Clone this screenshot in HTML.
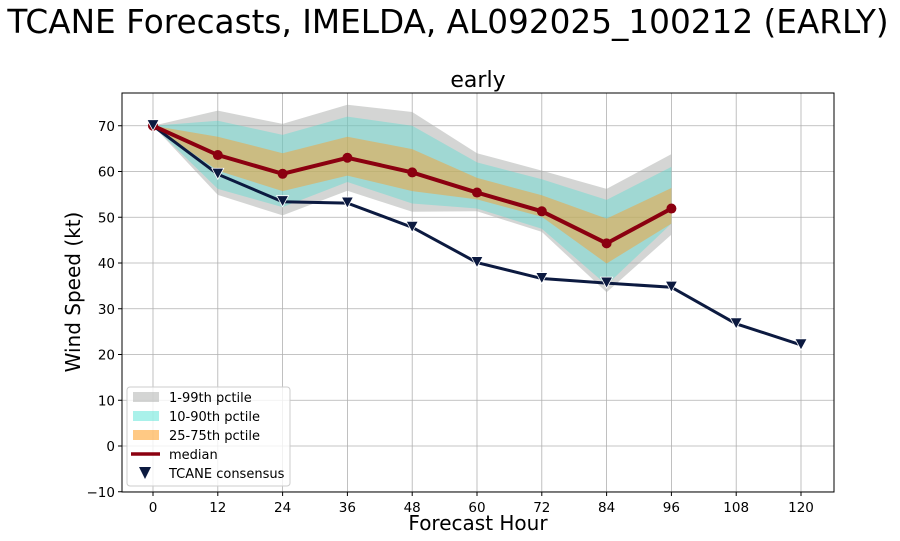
<!DOCTYPE html>
<html><head><meta charset="utf-8"><style>
body{margin:0;background:#fff;width:900px;height:541px;overflow:hidden}
svg{display:block;font-family:"DejaVu Sans","Liberation Sans",sans-serif}
</style></head><body>
<svg id="c" width="900" height="541"></svg>
<script>
const hours=[0,12,24,36,48,60,72,84,96];
const p01=[70,54.9,50.4,55.8,51.2,51.3,46.8,33.6,46.2];
const p99=[70,73.3,70.4,74.6,73,64,60.2,56.2,63.8];
const p10=[70,56.2,52.2,57.7,53,51.9,47.5,35.2,48.6];
const p90=[70,71.1,68,72,70,62,58.3,53.8,61];
const p25=[70,60.2,55.7,59.1,55.7,53.9,50.1,39.9,48.6];
const p75=[70,67.6,64,67.6,64.9,58.6,54.8,49.7,56.4];
const median=[70,63.6,59.5,63,59.8,55.4,51.3,44.3,51.9];
const consHours=[0,12,24,36,48,60,72,84,96,108,120];
const consensus=[70,59.4,53.4,53.1,47.8,40.1,36.6,35.6,34.7,26.7,22.1];
const xTicks=[0,12,24,36,48,60,72,84,96,108,120];
const yTicks=[-10,0,10,20,30,40,50,60,70];

const L=122,R=834,T=93,B=492;
const X=h=>153+(h-0)*(801-153)/120;
const Y=v=>446-v*4.575;
const NS="http://www.w3.org/2000/svg";
const svg=document.getElementById('c');
function el(t,a,txt){const e=document.createElementNS(NS,t);for(const k in a)e.setAttribute(k,a[k]);if(txt!=null)e.textContent=txt;svg.appendChild(e);return e;}

let t=el('text',{x:448,y:33,'font-size':32.7,'text-anchor':'middle',fill:'#000'},'TCANE Forecasts, IMELDA, AL092025_100212 (EARLY)');

t=el('text',{x:478,y:87,'font-size':22,'text-anchor':'middle'},'early');


xTicks.forEach(h=>{let g=el('line',{x1:X(h),x2:X(h),y1:T,y2:B,stroke:'#b0b0b0','stroke-width':0.8});

el('line',{x1:X(h),x2:X(h),y1:B,y2:B+4,stroke:'#000'});
let s=el('text',{x:X(h),y:B+20,'font-size':13.5,'text-anchor':'middle'},String(h));
});
yTicks.forEach(v=>{let g=el('line',{x1:L,x2:R,y1:Y(v),y2:Y(v),stroke:'#b0b0b0','stroke-width':0.8});

el('line',{x1:L-4,x2:L,y1:Y(v),y2:Y(v),stroke:'#000'});
let s=el('text',{x:L-7,y:Y(v)+5,'font-size':13.5,'text-anchor':'end'},v<0?'\u2212'+(-v):String(v));
});

function band(lo,hi,fill,op,name){
 let pts=hours.map((h,i)=>X(h)+','+Y(hi[i])).concat(hours.map((h,i)=>[X(h),Y(lo[i])]).reverse().map(p=>p[0]+','+p[1]));
 let p=el('polygon',{points:pts.join(' '),fill:fill,'fill-opacity':op});
 }
band(p01,p99,'#a9acaa',0.5,'band-1-99');
band(p10,p90,'#40e0d0',0.35,'band-10-90');
band(p25,p75,'#ff9c1f',0.45,'band-25-75');

let cl=el('polyline',{points:consHours.map((h,i)=>X(h)+','+Y(consensus[i])).join(' '),fill:'none',stroke:'#0c1a40','stroke-width':3});

let ml=el('polyline',{points:hours.map((h,i)=>X(h)+','+Y(median[i])).join(' '),fill:'none',stroke:'#8b0010','stroke-width':4});

hours.forEach((h,i)=>{let c=el('circle',{cx:X(h),cy:Y(median[i]),r:5,fill:'#8b0010'});
});
consHours.forEach((h,i)=>{let x=X(h),y=Y(consensus[i]);
let p=el('polygon',{points:`${x-6},${y-6} ${x+6},${y-6} ${x},${y+5}`,fill:'#0c1a40',stroke:'#fff','stroke-width':0.8});
});

let fr=el('rect',{x:L,y:T,width:R-L,height:B-T,fill:'none',stroke:'#000','stroke-width':1});


t=el('text',{x:478,y:530,'font-size':20,'text-anchor':'middle'},'Forecast Hour');

t=el('text',{x:80,y:292,'font-size':20,'text-anchor':'middle',transform:'rotate(-90 80 292)'},'Wind Speed (kt)');


let lg=el('rect',{x:127,y:387,width:163,height:99,rx:3,fill:'#fff','fill-opacity':0.8,stroke:'#ccc'});

const items=[['1-99th pctile','#a9acaa',0.5],['10-90th pctile','#40e0d0',0.45],['25-75th pctile','#ff9c1f',0.55],['median'],['TCANE consensus']];
items.forEach((it,i)=>{const y=397+i*19;
 if(i<3){let r=el('rect',{x:133,y:y-5,width:26,height:10,fill:it[1],'fill-opacity':it[2]});}
 else if(i==3){let l=el('line',{x1:131,x2:160,y1:y,y2:y,stroke:'#8b0010','stroke-width':3.5});}
 else {let p=el('polygon',{points:`139,${y-6} 151,${y-6} 145,${y+6}`,fill:'#0c1a40'});}
 let s=el('text',{x:169,y:y+5,'font-size':13},it[0]);});
</script>
</body></html>
